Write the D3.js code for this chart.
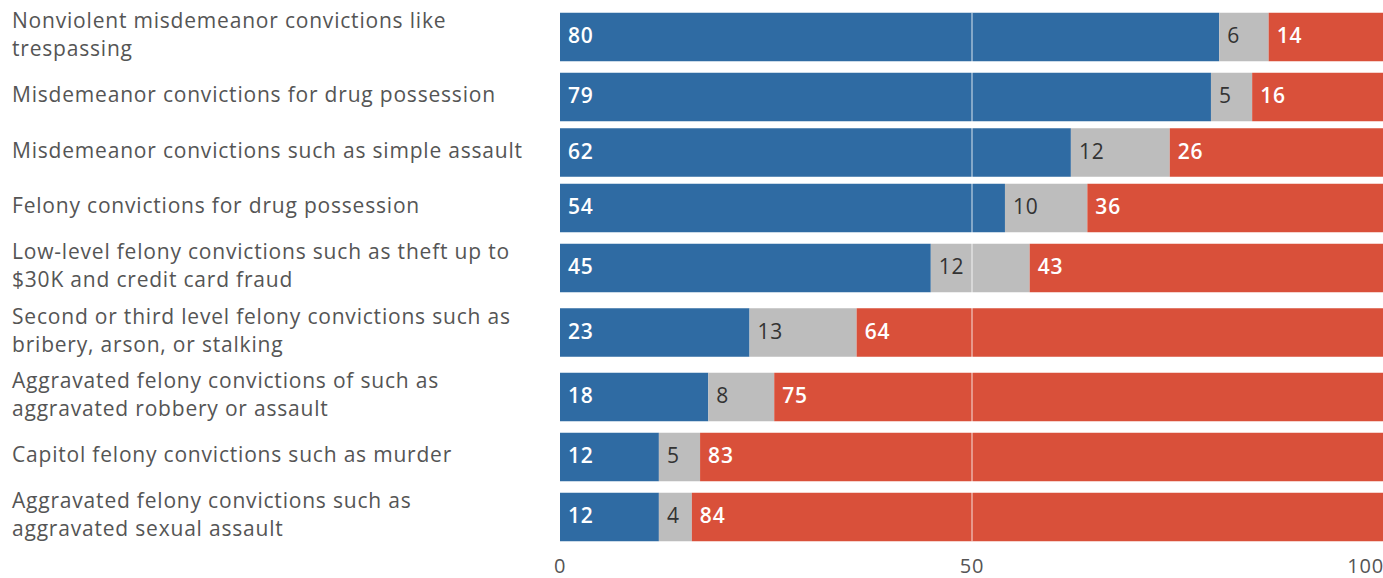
<!DOCTYPE html>
<html>
<head>
<meta charset="utf-8">
<script src="https://cdn.jsdelivr.net/npm/d3@7"></script>
<style>
  body { margin: 0; background: #fff; }
  svg { display: block; font-family: "Open Sans", Lato, sans-serif; letter-spacing: 0.8px; }
</style>
</head>
<body>
<div class="chart"></div>
<script>
// categories (line breaks follow the original wrapping)
const categories = [
  "Nonviolent misdemeanor convictions like\ntrespassing",
  "Misdemeanor convictions for drug possession",
  "Misdemeanor convictions such as simple assault",
  "Felony convictions for drug possession",
  "Low-level felony convictions such as theft up to\n$30K and credit card fraud",
  "Second or third level felony convictions such as\nbribery, arson, or stalking",
  "Aggravated felony convictions of such as\naggravated robbery or assault",
  "Capitol felony convictions such as murder",
  "Aggravated felony convictions such as\naggravated sexual assault"
];
const support = [80, 79, 62, 54, 45, 23, 18, 12, 12];
const unsure  = [6, 5, 12, 10, 12, 13, 8, 5, 4];
const oppose  = [14, 16, 26, 36, 43, 64, 75, 83, 84];
const xTicks = [0, 50, 100];

const width = 1383, height = 578;
const colors = { support: '#2f6ba3', unsure: '#bdbdbd', oppose: '#d9503a' };
const textColors = { support: '#fff', unsure: '#333', oppose: '#fff' };

let svg = d3.select('.chart').append('svg')
  .attr('width', width)
  .attr('height', height);

let x = d3.scaleLinear().domain([0, 100]).range([560, 1384]);

// row heights depend on how many lines the label wraps to
let rows = categories.map(c => c.split('\n'));
let rowH = rows.map(l => l.length > 1 ? 64.5 : 55.5);
let centers = [], acc = 0;
rowH.forEach((h, i) => {
  acc += i === 0 ? h / 2 : (rowH[i - 1] + h) / 2;
  centers.push(acc);
});
let y = d3.scaleLinear().domain([centers[0], centers[centers.length - 1]]).range([37, 517]);
const barH = 48.5;

let data = categories.map((c, i) => ({
  lines: rows[i],
  cy: y(centers[i]),
  segs: [
    { key: 'support', v0: 0, v1: support[i] },
    { key: 'unsure', v0: support[i], v1: support[i] + unsure[i] },
    { key: 'oppose', v0: support[i] + unsure[i], v1: support[i] + unsure[i] + oppose[i] }
  ]
}));

let row = svg.selectAll('g.row')
  .data(data)
  .enter().append('g')
  .attr('class', 'row');

row.selectAll('rect')
  .data(d => d.segs.map(s => Object.assign({ cy: d.cy }, s)))
  .enter().append('rect')
  .attr('x', d => x(d.v0))
  .attr('width', d => x(d.v1) - x(d.v0))
  .attr('y', d => d.cy - barH / 2)
  .attr('height', barH)
  .style('fill', d => colors[d.key]);

row.selectAll('text.val')
  .data(d => d.segs.map(s => Object.assign({ cy: d.cy }, s)))
  .enter().append('text')
  .attr('class', 'val')
  .attr('x', d => x(d.v0) + 8)
  .attr('y', d => d.cy - 2)
  .attr('dominant-baseline', 'central')
  .style('font-size', '21px')
  .style('font-weight', d => d.key === 'unsure' ? 400 : 600)
  .style('fill', d => textColors[d.key])
  .text(d => d.v1 - d.v0);

// labels on the left
row.append('text')
  .attr('class', 'label')
  .style('font-size', '21px')
  .style('fill', '#555')
  .selectAll('tspan')
  .data(d => d.lines.map((l, j) => ({ l: l, cy: d.cy, j: j, n: d.lines.length })))
  .enter().append('tspan')
  .attr('x', 12)
  .attr('y', d => d.cy - 3 + (d.j - (d.n - 1) / 2) * 28)
  .attr('dominant-baseline', 'central')
  .text(d => d.l);

// grid line at 50
svg.append('line')
  .attr('x1', x(50)).attr('x2', x(50))
  .attr('y1', y(centers[0]) - barH / 2)
  .attr('y2', y(centers[centers.length - 1]) + barH / 2)
  .style('stroke', '#fff')
  .style('stroke-opacity', 0.55)
  .style('stroke-width', 1.5);

// x axis labels
svg.selectAll('text.tick')
  .data(xTicks)
  .enter().append('text')
  .attr('class', 'tick')
  .attr('x', d => x(d))
  .attr('y', 565)
  .attr('text-anchor', d => d === 100 ? 'end' : 'middle')
  .attr('dominant-baseline', 'central')
  .style('font-size', '20px')
  .style('fill', '#555')
  .text(d => d);
</script>
</body>
</html>
